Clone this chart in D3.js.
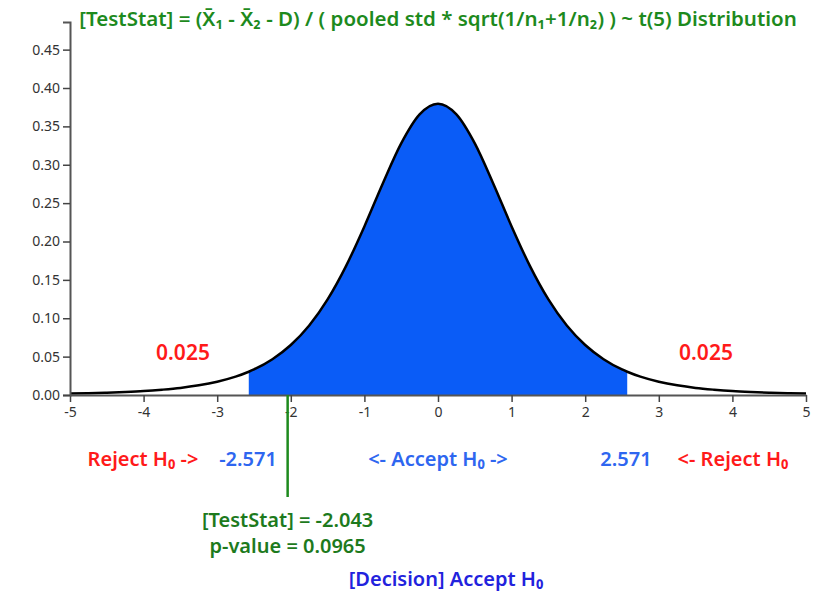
<!DOCTYPE html>
<html>
<head>
<meta charset="utf-8">
<script src="https://cdn.jsdelivr.net/npm/d3@7"></script>
<style>
  body { margin: 0; background: #fff; }
  svg text { font-family: "Noto Sans", "Open Sans", sans-serif; }
</style>
</head>
<body>
<svg id="chart" width="822" height="591"></svg>
<script>
// t(5) density
var tValues = [-5, -4.75, -4.5, -4.25, -4, -3.75, -3.5, -3.25, -3, -2.75, -2.571, -2.5, -2.25, -2, -1.75, -1.5, -1.25, -1, -0.75, -0.5, -0.25,
  0, 0.25, 0.5, 0.75, 1, 1.25, 1.5, 1.75, 2, 2.25, 2.5, 2.571, 2.75, 3, 3.25, 3.5, 3.75, 4, 4.25, 4.5, 4.75, 5];
var density = [0.0018, 0.0023, 0.0030, 0.0039, 0.0051, 0.0069, 0.0092, 0.0126, 0.0173, 0.0239, 0.0303, 0.0333, 0.0466, 0.0651, 0.0905, 0.1245, 0.1679, 0.2197, 0.2757, 0.3279, 0.3657,
  0.3796, 0.3657, 0.3279, 0.2757, 0.2197, 0.1679, 0.1245, 0.0905, 0.0651, 0.0466, 0.0333, 0.0303, 0.0239, 0.0173, 0.0126, 0.0092, 0.0069, 0.0051, 0.0039, 0.0030, 0.0023, 0.0018];
var xTicks = [-5, -4, -3, -2, -1, 0, 1, 2, 3, 4, 5];
var yTicks = [0, 0.05, 0.10, 0.15, 0.20, 0.25, 0.30, 0.35, 0.40, 0.45];
var criticalValues = [-2.571, 2.571];
var tailAreas = [0.025, 0.025];
var testStat = -2.043;
var pValue = 0.0965;

var svg = d3.select('#chart');
var x = d3.scaleLinear().domain([-5, 5]).range([70, 806]);
var y = d3.scaleLinear().domain([0, 0.486]).range([395, 22]);

var points = tValues.map(function(t, i) { return {t: t, d: density[i]}; });
var inner = points.filter(function(p) { return p.t >= criticalValues[0] && p.t <= criticalValues[1]; });

// accept region
svg.append('path')
  .datum(inner)
  .attr('fill', '#0a5cf7')
  .attr('d', d3.area().x(d => x(d.t)).y0(y(0)).y1(d => y(d.d)).curve(d3.curveMonotoneX));

// density curve
svg.append('path')
  .datum(points)
  .attr('fill', 'none')
  .attr('stroke', '#000')
  .attr('stroke-width', 2.5)
  .attr('d', d3.line().x(d => x(d.t)).y(d => y(d.d)).curve(d3.curveMonotoneX));

// axes
var xAxis = svg.append('g')
  .attr('transform', 'translate(0,' + y(0) + ')')
  .call(d3.axisBottom(x).tickValues(xTicks).tickSizeInner(7).tickSizeOuter(0).tickFormat(d => String(d)));
var yAxis = svg.append('g')
  .attr('transform', 'translate(' + x(-5) + ',0)')
  .call(d3.axisLeft(y).tickValues(yTicks).tickSizeInner(7).tickSizeOuter(7).tickFormat(d => d.toFixed(2)));
[xAxis, yAxis].forEach(function(ax) {
  ax.select('.domain').attr('stroke', '#555').attr('stroke-width', 2);
  ax.selectAll('.tick line').attr('stroke', '#444').attr('stroke-width', 1.5);
  ax.selectAll('.tick text').attr('fill', '#333').style('font-size', '14px');
});
xAxis.selectAll('.tick text').attr('dy', '0.85em');

// test statistic line
svg.append('line')
  .attr('x1', x(testStat)).attr('x2', x(testStat))
  .attr('y1', y(0)).attr('y2', 497)
  .attr('stroke', '#1d8a1d').attr('stroke-width', 2.5);

function label(txt, px, py, color, anchor, size, weight) {
  svg.append('text')
    .attr('x', px).attr('y', py)
    .attr('text-anchor', anchor || 'middle')
    .attr('fill', color)
    .style('font-size', (size || 16) + 'px')
    .style('font-weight', weight || 'normal')
    .text(txt);
}

label('[TestStat] = (X\u0304\u2081 - X\u0304\u2082 - D) / ( pooled std * sqrt(1/n\u2081+1/n\u2082) ) ~ t(5) Distribution',
  438, 26, '#1d8a1d', 'middle', 20.5, 600);

label(tailAreas[0].toFixed(3), 183, 360, '#ff1a1a', 'middle', 21, 600);
label(tailAreas[1].toFixed(3), 706, 360, '#ff1a1a', 'middle', 21, 600);

label('Reject H\u2080 ->', 143, 466, '#ff1a1a', 'middle', 20, 600);
label(criticalValues[0].toFixed(3), 248, 466, '#2e66f0', 'middle', 20, 600);
label('<- Accept H\u2080 ->', x(0), 466, '#2e66f0', 'middle', 20, 600);
label(criticalValues[1].toFixed(3), 626, 466, '#2e66f0', 'middle', 20, 600);
label('<- Reject H\u2080', 733, 466, '#ff1a1a', 'middle', 20, 600);

label('[TestStat] = ' + testStat.toFixed(3), x(testStat), 527, '#1d7a1d', 'middle', 20, 600);
label('p-value = ' + pValue.toFixed(4), x(testStat), 553, '#1d7a1d', 'middle', 20, 600);
label('[Decision] Accept H\u2080', 446, 586, '#2222dd', 'middle', 20, 600);
</script>
</body>
</html>
